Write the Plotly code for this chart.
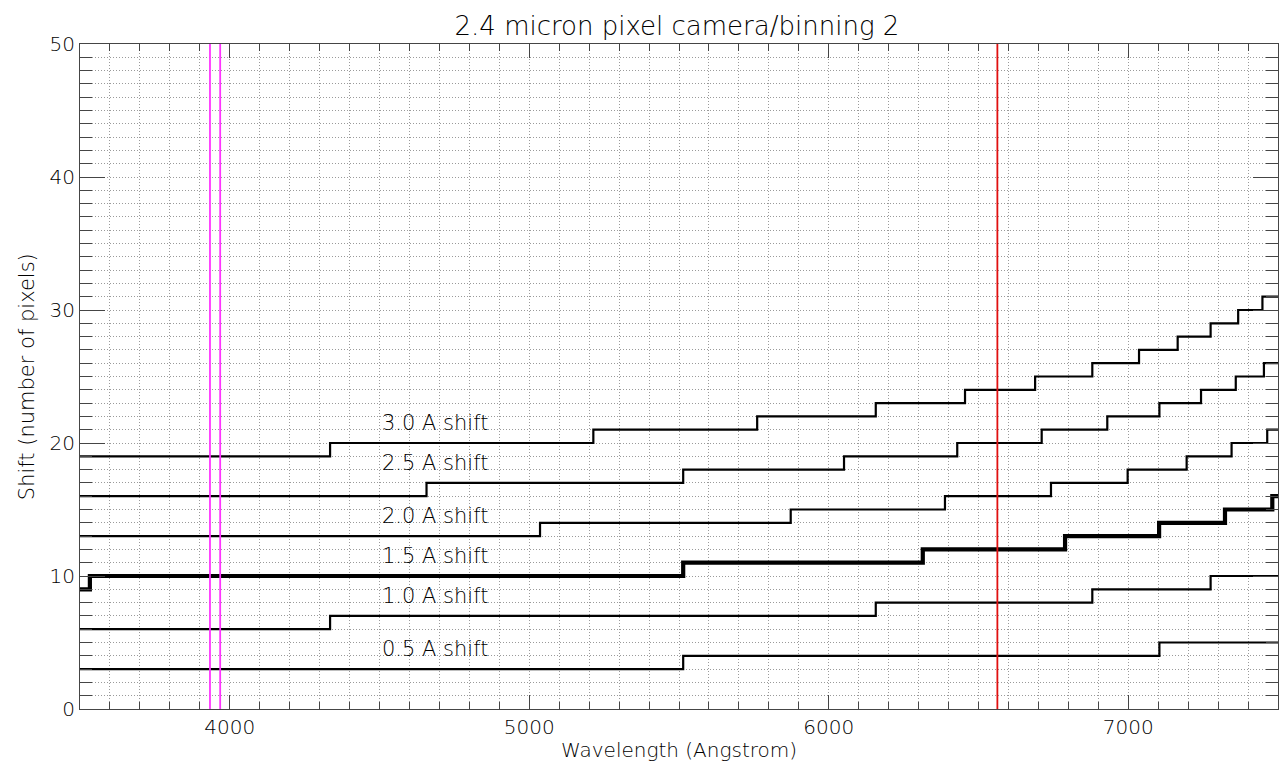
import plotly.graph_objects as go

# ---- data ----
title_text = "2.4 micron pixel camera/binning 2"
x_title = "Wavelength (Angstrom)"
y_title = "Shift (number of pixels)"
x_ticks = [4000, 5000, 6000, 7000]
y_ticks = [0, 10, 20, 30, 40, 50]

labels = ["0.5 A shift", "1.0 A shift", "1.5 A shift", "2.0 A shift", "2.5 A shift", "3.0 A shift"]
label_x = [4500, 4500, 4500, 4500, 4500, 4500]
label_y = [4.5, 8.5, 11.5, 14.5, 18.5, 21.5]

# step edges (wavelength, Angstrom) and shift values (pixels) between edges
edges_05 = [3500, 5514, 7104, 7500]
vals_05 = [3, 4, 5]
edges_10 = [3500, 4335, 6157, 6880, 7275, 7500]
vals_10 = [6, 7, 8, 9, 10]
edges_15 = [3500, 3533, 5514, 6314, 6789, 7103, 7323, 7481, 7500]
vals_15 = [9, 10, 11, 12, 13, 14, 15, 16]
edges_20 = [3500, 5036, 5873, 6388, 6742, 6998, 7195, 7345, 7464, 7500]
vals_20 = [13, 14, 15, 16, 17, 18, 19, 20, 21]
edges_25 = [3500, 4657, 5514, 6051, 6429, 6711, 6930, 7104, 7243, 7359, 7453, 7500]
vals_25 = [16, 17, 18, 19, 20, 21, 22, 23, 24, 25, 26]
edges_30 = [3500, 4335, 5214, 5761, 6157, 6455, 6689, 6880, 7036, 7165, 7275, 7367, 7448, 7500]
vals_30 = [19, 20, 21, 22, 23, 24, 25, 26, 27, 28, 29, 30, 31]

# marker lines (Ca K, Ca H, H-alpha)
line_wl = [3934, 3968, 6563]
line_colors = ["#ff33ff", "#ff33ff", "#e01010"]

FONT = "DejaVu Sans"
W = 200

fig = go.Figure()

series = [
    (edges_05, vals_05, 2.2),
    (edges_10, vals_10, 2.2),
    (edges_15, vals_15, 4.2),
    (edges_20, vals_20, 2.2),
    (edges_25, vals_25, 2.2),
    (edges_30, vals_30, 2.2),
]
for edges, vals, w in series:
    xs = list(edges)
    ys = list(vals) + [vals[-1]]
    fig.add_trace(go.Scatter(x=xs, y=ys, mode="lines", line=dict(color="black", width=w, shape="hv"),
                             showlegend=False, hoverinfo="skip"))

for wl, c in zip(line_wl, line_colors):
    fig.add_trace(go.Scatter(x=[wl, wl], y=[0, 50], mode="lines", line=dict(color=c, width=1.8),
                             showlegend=False, hoverinfo="skip"))

for t, lx, ly in zip(labels, label_x, label_y):
    fig.add_annotation(x=lx, y=ly, text=t, showarrow=False, xanchor="left", yanchor="middle",
                       font=dict(family=FONT, size=21, color="black", weight=W))

# axis titles as paper-positioned annotations
fig.add_annotation(x=0.5, y=-0.062, xref="paper", yref="paper", text=x_title, showarrow=False,
                   xanchor="center", yanchor="middle",
                   font=dict(family=FONT, size=20, color="black", weight=W))
fig.add_annotation(x=-0.0445, y=0.5, xref="paper", yref="paper", text=y_title, showarrow=False,
                   textangle=-90, xanchor="center", yanchor="middle",
                   font=dict(family=FONT, size=21, color="black", weight=W))

grid_col = "#9a9a9a"
axis_col = "#454545"

fig.update_xaxes(
    range=[3500, 7500], tickvals=x_ticks, ticks="inside", ticklen=14, tickwidth=1, tickcolor=axis_col,
    showline=True, linecolor=axis_col, linewidth=1, mirror="allticks", automargin=False,
    showgrid=True, gridcolor=grid_col, griddash="1px,2px", gridwidth=1, zeroline=False,
    minor=dict(dtick=100, ticks="inside", ticklen=7, tickcolor=axis_col,
               showgrid=True, gridcolor=grid_col, griddash="1px,2px", gridwidth=1),
    tickfont=dict(family=FONT, size=20, color="black", weight=W),
)
fig.update_yaxes(
    range=[0, 50], tickvals=y_ticks, ticks="inside", ticklen=25, tickwidth=1, tickcolor=axis_col,
    showline=True, linecolor=axis_col, linewidth=1, mirror="allticks", automargin=False,
    showgrid=True, gridcolor=grid_col, griddash="1px,2px", gridwidth=1, zeroline=False,
    minor=dict(dtick=1, ticks="inside", ticklen=12, tickcolor=axis_col,
               showgrid=True, gridcolor=grid_col, griddash="1px,2px", gridwidth=1),
    tickfont=dict(family=FONT, size=20, color="black", weight=W),
)

# page body has an 8px margin, so the figure is sized/offset to compensate
fig.update_layout(
    width=1279, height=767,
    margin=dict(l=72, r=9, t=36, b=66, autoexpand=False),
    paper_bgcolor="white", plot_bgcolor="white",
    title=dict(text=title_text, x=0.523, xref="container", xanchor="center",
               y=0.977, yref="container", yanchor="middle",
               font=dict(family=FONT, size=26, color="black", weight=W)),
    font=dict(family=FONT, color="black"),
)

fig.write_html("out.html")
